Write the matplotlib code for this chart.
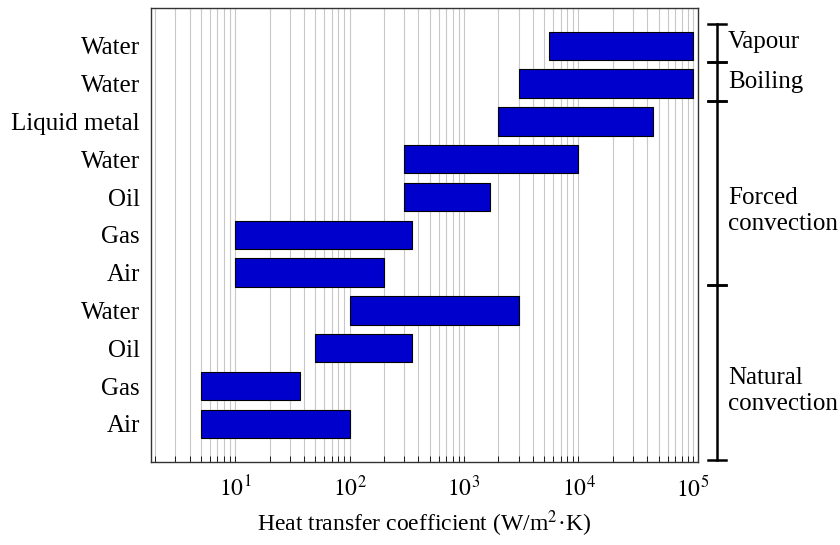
import matplotlib
matplotlib.use("Agg")
import matplotlib.pyplot as plt
from matplotlib.ticker import LogLocator, NullFormatter

plt.rcParams['font.family'] = ['Liberation Serif', 'DejaVu Serif']
plt.rcParams['mathtext.fontset'] = 'stix'

# Bars from bottom to top
labels = ["Air", "Gas", "Oil", "Water", "Air", "Gas", "Oil", "Water",
          "Liquid metal", "Water", "Water"]
h_min = [5, 5, 50, 100, 10, 10, 300, 300, 2000, 3000, 5500]
h_max = [100, 37, 350, 3000, 200, 350, 1700, 10000, 45000, 100000, 100000]

# Group brackets on the right (limits in bar-index units)
groups = ["Natural\nconvection", "Forced\nconvection", "Boiling", "Vapour"]
group_lo = [-0.96, 3.67, 8.54, 9.56]
group_hi = [3.67, 8.54, 9.56, 10.57]
group_text_y = [0.87, 5.63, 9.05, 10.11]

fig = plt.figure(figsize=(8.4, 5.45), dpi=100)
ax = fig.add_axes([0.18, 0.153, 0.6506, 0.8323])

ypos = list(range(len(labels)))
widths = [hi - lo for lo, hi in zip(h_min, h_max)]
ax.barh(ypos, widths, left=h_min, height=0.75, color="#0000cc",
        edgecolor="black", linewidth=0.8, zorder=3)

ax.set_xscale("log")
ax.set_xlim(1.85, 1.1e5)
ax.set_ylim(-1, 11)
ax.set_yticks(ypos)
ax.set_yticklabels(labels, fontsize=18)
ax.tick_params(axis="y", length=0, pad=8)

ax.xaxis.set_minor_locator(LogLocator(base=10, subs=range(2, 10), numticks=10))
ax.xaxis.set_minor_formatter(NullFormatter())
ax.set_xticks([10, 100, 1000, 10000, 100000])
ax.set_xticklabels([r"$10^{1}$", r"$10^{2}$", r"$10^{3}$", r"$10^{4}$", r"$10^{5}$"],
                   fontsize=17)
ax.tick_params(axis="x", which="both", direction="in", length=4, width=0.6, pad=10)
ax.grid(True, which="both", axis="x", color="#c8c8c8", linewidth=0.8, zorder=0)
ax.set_axisbelow(True)
for s in ax.spines.values():
    s.set_linewidth(1.0)
    s.set_color("#333333")

ax.set_xlabel("Heat transfer coefficient (W/m$^2$·K)", fontsize=17, labelpad=5)

# right-hand brackets
tr = ax.get_yaxis_transform()
xl = 1.035
for lo, hi, name, ty in zip(group_lo, group_hi, groups, group_text_y):
    ax.plot([xl, xl], [lo, hi], color="black", lw=1.8, transform=tr, clip_on=False)
    ax.plot([xl - 0.016, xl + 0.016], [lo, lo], color="black", lw=1.8,
            transform=tr, clip_on=False)
    ax.plot([xl - 0.016, xl + 0.016], [hi, hi], color="black", lw=1.8,
            transform=tr, clip_on=False)
    ax.text(xl + 0.02, ty, name, transform=tr, fontsize=18, va="center",
            ha="left", linespacing=1.25)

fig.savefig("out.png", dpi=100)
